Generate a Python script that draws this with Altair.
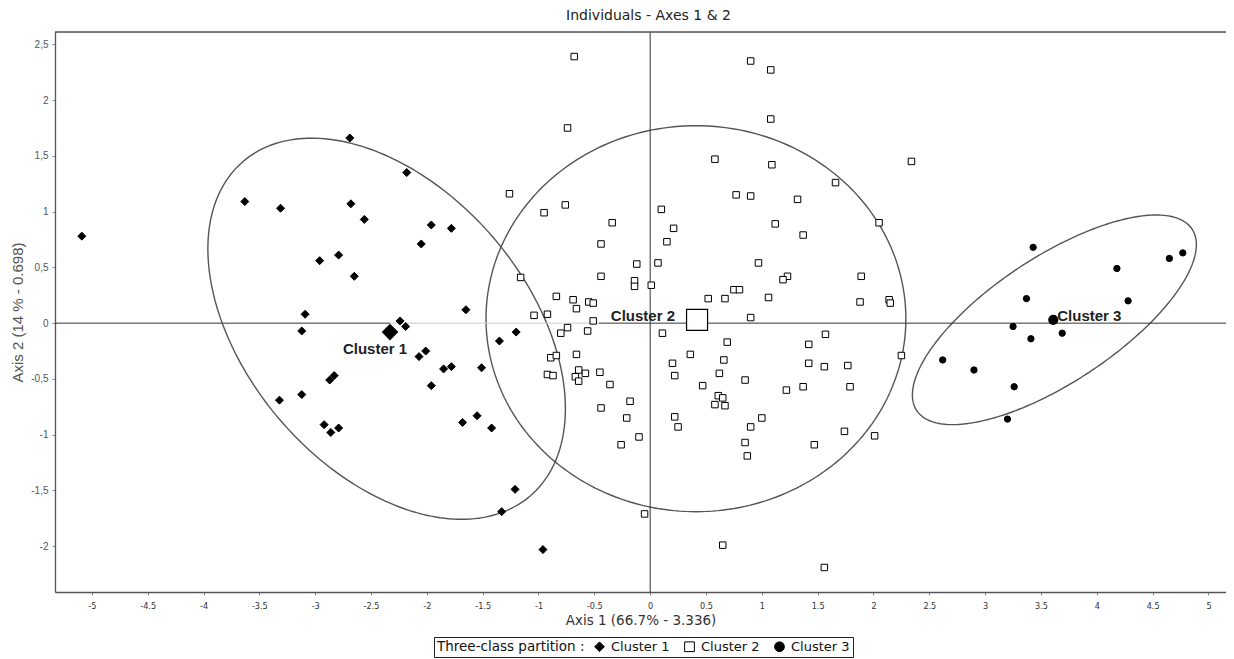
import altair as alt
import numpy as np
import pandas as pd

# ---------------- data ----------------
cluster_names = ["Cluster 1", "Cluster 2", "Cluster 3"]

c1_x = [-5.09, -3.63, -3.31, -2.69, -2.18, -2.68, -2.56, -1.96, -1.78, -2.05,
        -2.96, -2.79, -2.65, -3.09, -1.65, -3.12, -2.24, -2.19, -1.20, -1.35,
        -2.07, -2.01, -1.85, -1.78, -1.51, -1.96, -2.87, -2.83, -3.12, -3.32,
        -2.92, -2.86, -2.79, -1.68, -1.55, -1.42, -1.21, -1.33, -0.96]
c1_y = [0.78, 1.09, 1.03, 1.66, 1.35, 1.07, 0.93, 0.88, 0.85, 0.71,
        0.56, 0.61, 0.42, 0.08, 0.12, -0.07, 0.02, -0.03, -0.08, -0.16,
        -0.30, -0.25, -0.41, -0.39, -0.40, -0.56, -0.51, -0.47, -0.64, -0.69,
        -0.91, -0.98, -0.94, -0.89, -0.83, -0.94, -1.49, -1.69, -2.03]

c2_x = [-1.26, -0.95, -0.76, -0.34, -0.44, 0.10, 0.21, 0.15, 0.77, 0.58,
        -0.12, 0.07, -0.44, -1.16, -0.14, -0.14, 0.01, -0.84, -0.69, -0.55,
        -0.51, -0.66, -1.04, -0.92, -0.51, -0.74, -0.80, -0.56, 0.11, 0.52,
        0.67, 0.75, 0.80, 0.69, 0.36, 0.90, -0.89, -0.84, -0.66, -0.92,
        -0.87, -0.64, -0.58, -0.67, -0.64, -0.45, -0.36, -0.18, -0.44, -0.21,
        -0.10, -0.26, -0.05, 0.65, 0.20, 0.22, 0.66, 0.62, 0.47, 0.61,
        0.65, 0.58, 0.67, 0.85, 0.22, 0.25, 1.00, 0.90, 0.85, 0.87,
        0.90, 1.08, 1.08, 1.09, 2.34, 1.66, 0.90, 1.32, 2.05, 1.12,
        1.37, 0.97, 1.23, 1.19, 1.89, 1.06, 1.88, 2.14, 2.15, 1.57,
        1.42, 1.42, 1.56, 1.77, 2.25, 1.22, 1.37, 1.79, 1.74, 2.01,
        1.47, 1.56, -0.68, -0.74]
c2_y = [1.16, 0.99, 1.06, 0.90, 0.71, 1.02, 0.85, 0.73, 1.15, 1.47,
        0.53, 0.54, 0.42, 0.41, 0.38, 0.33, 0.34, 0.24, 0.21, 0.19,
        0.18, 0.13, 0.07, 0.08, 0.02, -0.04, -0.09, -0.07, -0.09, 0.22,
        0.22, 0.30, 0.30, -0.17, -0.28, 0.05, -0.31, -0.29, -0.28, -0.46,
        -0.47, -0.42, -0.45, -0.48, -0.52, -0.44, -0.55, -0.70, -0.76, -0.85,
        -1.02, -1.09, -1.71, -1.99, -0.36, -0.47, -0.33, -0.45, -0.56, -0.65,
        -0.67, -0.73, -0.74, -0.51, -0.84, -0.93, -0.85, -0.93, -1.07, -1.19,
        2.35, 2.27, 1.83, 1.42, 1.45, 1.26, 1.14, 1.11, 0.90, 0.89,
        0.79, 0.54, 0.42, 0.39, 0.42, 0.23, 0.19, 0.21, 0.18, -0.10,
        -0.19, -0.36, -0.39, -0.38, -0.29, -0.60, -0.57, -0.57, -0.97, -1.01,
        -1.09, -2.19, 2.39, 1.75]

c3_x = [3.43, 4.18, 4.65, 4.77, 3.37, 4.28, 3.25, 3.41, 3.69, 2.62, 2.90, 3.26, 3.20]
c3_y = [0.68, 0.49, 0.58, 0.63, 0.22, 0.20, -0.03, -0.14, -0.09, -0.33, -0.42, -0.57, -0.86]

centroid_x = [-2.33, 0.42, 3.61]
centroid_y = [-0.08, 0.03, 0.03]

# confidence ellipses: centre, semi-axes, rotation (degrees)
ell_cx = [-2.36, 0.41, 3.62]
ell_cy = [-0.05, 0.04, 0.03]
ell_a = [1.975, 1.88, 1.477]
ell_b = [1.257, 1.73, 0.564]
ell_angle = [-49.4, 0.0, 33.4]

x_ticks = [-5, -4.5, -4, -3.5, -3, -2.5, -2, -1.5, -1, -0.5, 0,
           0.5, 1, 1.5, 2, 2.5, 3, 3.5, 4, 4.5, 5]
y_ticks = [-2, -1.5, -1, -0.5, 0, 0.5, 1, 1.5, 2, 2.5]

X_DOMAIN = [-5.33, 5.157]
Y_DOMAIN = [-2.41, 2.61]

# ---------------- tables ----------------
groups = [
    pd.DataFrame({"x": c1_x, "y": c1_y, "cluster": "Cluster 1"}),
    pd.DataFrame({"x": c2_x, "y": c2_y, "cluster": "Cluster 2"}),
    pd.DataFrame({"x": c3_x, "y": c3_y, "cluster": "Cluster 3"}),
]
cent = pd.DataFrame({"x": centroid_x, "y": centroid_y, "cluster": cluster_names})

rows = []
t = np.linspace(0, 2 * np.pi, 241)
for k in range(3):
    th = np.deg2rad(ell_angle[k])
    ex = ell_cx[k] + ell_a[k] * np.cos(t) * np.cos(th) - ell_b[k] * np.sin(t) * np.sin(th)
    ey = ell_cy[k] + ell_a[k] * np.cos(t) * np.sin(th) + ell_b[k] * np.sin(t) * np.cos(th)
    for i in range(len(t)):
        rows.append({"x": ex[i], "y": ey[i], "i": i, "e": k})
ell = pd.DataFrame(rows)

vline = pd.DataFrame({"x": [0.0]})
topline = pd.DataFrame({"y": [Y_DOMAIN[1]]})
hseg = pd.DataFrame({
    "x": [X_DOMAIN[0], centroid_x[0], -0.46],
    "x2": [centroid_x[0], -0.46, X_DOMAIN[1]],
    "y": [0.0, 0.0, 0.0],
    "col": ["#333333", "#cccccc", "#333333"],
})

# ---------------- encodings ----------------
X = alt.X("x:Q",
          scale=alt.Scale(domain=X_DOMAIN, nice=False, zero=False),
          axis=alt.Axis(values=x_ticks, labelExpr="toString(datum.value)",
                        title="Axis 1 (66.7% - 3.336)", grid=False,
                        domain=True, domainColor="#555555", domainWidth=1.3,
                        ticks=True, tickSize=3, tickColor="#888",
                        labelFont="DejaVu Sans Condensed", labelFontSize=9, labelColor="#333",
                        labelPadding=6, labelOverlap=False,
                        titleFont="DejaVu Sans", titleFontSize=13.5, titleFontWeight="normal",
                        titleColor="#333", titlePadding=3))
Y = alt.Y("y:Q",
          scale=alt.Scale(domain=Y_DOMAIN, nice=False, zero=False),
          axis=alt.Axis(values=y_ticks, labelExpr="replace(toString(datum.value), '.', ',')",
                        title="Axis 2 (14 % - 0.698)", grid=False,
                        domain=True, domainColor="#555555", domainWidth=1.3,
                        ticks=True, tickSize=3, tickColor="#888",
                        labelFont="Liberation Sans", labelFontSize=10, labelColor="#555",
                        labelPadding=4, labelOverlap=False,
                        titleFont="Liberation Sans", titleFontSize=15, titleFontWeight="normal",
                        titleColor="#555", titleX=-38, titleY=280, titleBaseline="middle",
                        titleAngle=270))

legend = alt.Legend(
    title="Three-class partition :", orient="none", legendX=379, legendY=605,
    direction="horizontal", titleOrient="left", strokeColor="#222",
    fillColor="white", padding=3, titleFont="DejaVu Sans", titleFontSize=13.5,
    titleFontWeight="normal", titleColor="#111", titleBaseline="middle", titlePadding=8,
    labelFont="DejaVu Sans", labelFontSize=13, labelColor="#111",
    symbolSize=95, symbolStrokeWidth=1, symbolStrokeColor="black",
    columnPadding=12, labelOffset=5)

shape_scale = alt.Scale(domain=cluster_names, range=["diamond", "square", "circle"])
fill_scale = alt.Scale(domain=cluster_names, range=["black", "white", "black"])
stroke_scale = alt.Scale(domain=cluster_names, range=["black", "black", "black"])

ellipses = alt.Chart(ell).mark_line(color="#555555", strokeWidth=1.4).encode(
    x=X, y=Y, detail="e:N", order="i:Q")

vrule = alt.Chart(vline).mark_rule(color="#333333", strokeWidth=1).encode(x=X)
trule = alt.Chart(topline).mark_rule(color="#555555", strokeWidth=1.3).encode(y=Y)
hrule = alt.Chart(hseg).mark_rule(strokeWidth=1).encode(
    x=X, x2="x2:Q", y=Y, stroke=alt.Stroke("col:N", scale=None))


def symbols(df, size, sw):
    return alt.Chart(df).mark_point(filled=True, strokeWidth=sw,
                                    opacity=1, size=size).encode(
        x=X, y=Y,
        shape=alt.Shape("cluster:N", scale=shape_scale, legend=legend),
        fill=alt.Fill("cluster:N", scale=fill_scale, legend=legend),
        stroke=alt.Stroke("cluster:N", scale=stroke_scale, legend=legend),
    )


point_layers = [symbols(groups[k], sz, 1) for k, sz in enumerate([64, 42, 40])]
cent_layers = [symbols(cent.iloc[[k]], sz, 1.2) for k, sz in enumerate([225, 441, 81])]

label_style = dict(font="Liberation Sans", fontSize=15, fontWeight="bold", color="#222")
labels = [
    alt.Chart(cent.iloc[[0]]).mark_text(align="center", baseline="alphabetic", dx=-15, dy=22,
                                        **label_style).encode(x=X, y=Y, text="cluster:N"),
    alt.Chart(cent.iloc[[1]]).mark_text(align="right", baseline="alphabetic", dx=-22, dy=1,
                                        **label_style).encode(x=X, y=Y, text="cluster:N"),
    alt.Chart(cent.iloc[[2]]).mark_text(align="left", baseline="alphabetic", dx=4, dy=1,
                                        **label_style).encode(x=X, y=Y, text="cluster:N"),
]

chart = alt.layer(ellipses, vrule, trule, hrule, *point_layers, *cent_layers, *labels).properties(
    width=1171, height=560,
    title=alt.TitleParams("Individuals - Axes 1 & 2", font="DejaVu Sans", fontSize=14,
                          fontWeight="normal", color="#222", offset=8, dx=8, anchor="middle"),
    autosize=alt.AutoSizeParams(type="none"),
    padding={"left": 47, "top": 24, "right": 0, "bottom": 67},
).configure_view(stroke=None).configure(background="white")

chart.save("out.html", embed_options={"renderer": "svg", "actions": False})
